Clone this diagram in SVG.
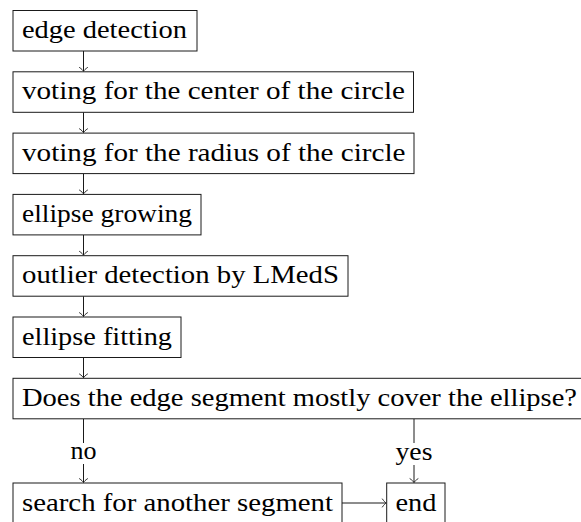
<svg xmlns="http://www.w3.org/2000/svg" width="581" height="522" viewBox="0 0 581 522">
  <defs>
    <style>
      .box { fill: #ffffff; stroke: #1a1a1a; stroke-width: 1; }
      text { font-family: "Liberation Serif", "Times New Roman", serif; font-size: 26px; fill: #000000; }
      .edge { fill: none; stroke: #1a1a1a; stroke-width: 1; }
    </style>
    <marker id="to" viewBox="-5 -5 6 10" refX="0" refY="0" markerWidth="6" markerHeight="10" markerUnits="userSpaceOnUse" orient="auto" overflow="visible">
      <path d="M-3.8,-4 C-2.3,-1.7 -0.8,-0.5 0,0 C-0.8,0.5 -2.3,1.7 -3.8,4" fill="none" stroke="#1a1a1a" stroke-width="0.9" stroke-linecap="round"/>
    </marker>
  </defs>

  <rect width="581" height="522" fill="#ffffff"/>

  <!-- connectors -->
  <g id="connectors">
    <line class="edge" x1="83.5" y1="51" x2="83.5" y2="71.3" marker-end="url(#to)"/>
    <line class="edge" x1="83.5" y1="112.3" x2="83.5" y2="132.6" marker-end="url(#to)"/>
    <line class="edge" x1="83.5" y1="173.6" x2="83.5" y2="193.9" marker-end="url(#to)"/>
    <line class="edge" x1="83.5" y1="234.9" x2="83.5" y2="255.2" marker-end="url(#to)"/>
    <line class="edge" x1="83.5" y1="296.2" x2="83.5" y2="316.5" marker-end="url(#to)"/>
    <line class="edge" x1="83.5" y1="357.5" x2="83.5" y2="377.8" marker-end="url(#to)"/>
    <!-- no branch -->
    <line class="edge" x1="83.5" y1="418.8" x2="83.5" y2="443"/>
    <line class="edge" x1="83.5" y1="464" x2="83.5" y2="482.5" marker-end="url(#to)"/>
    <text x="83.5" y="459" text-anchor="middle" textLength="26" lengthAdjust="spacingAndGlyphs">no</text>
    <!-- yes branch -->
    <line class="edge" x1="414" y1="418.8" x2="414" y2="443"/>
    <line class="edge" x1="414" y1="465" x2="414" y2="482.5" marker-end="url(#to)"/>
    <text x="414" y="459.5" text-anchor="middle" textLength="37" lengthAdjust="spacingAndGlyphs">yes</text>
    <!-- search to end -->
    <line class="edge" x1="342" y1="503" x2="386.2" y2="503" marker-end="url(#to)"/>
  </g>

  <g id="edge-detection">
    <rect class="box" x="13" y="10.5" width="184" height="40.5"/>
    <text x="22" y="38" textLength="165" lengthAdjust="spacingAndGlyphs">edge detection</text>
  </g>

  <g id="vote-center">
    <rect class="box" x="13" y="71.8" width="400.5" height="40.5"/>
    <text x="22" y="99.3" textLength="383" lengthAdjust="spacingAndGlyphs">voting for the center of the circle</text>
  </g>

  <g id="vote-radius">
    <rect class="box" x="13" y="133.1" width="401" height="40.5"/>
    <text x="22" y="160.6" textLength="383.5" lengthAdjust="spacingAndGlyphs">voting for the radius of the circle</text>
  </g>

  <g id="ellipse-growing">
    <rect class="box" x="13" y="194.4" width="188" height="40.5"/>
    <text x="22" y="221.9" textLength="170" lengthAdjust="spacingAndGlyphs">ellipse growing</text>
  </g>

  <g id="outlier-detection">
    <rect class="box" x="13" y="255.7" width="335" height="40.5"/>
    <text x="22" y="283.2" textLength="317" lengthAdjust="spacingAndGlyphs">outlier detection by LMedS</text>
  </g>

  <g id="ellipse-fitting">
    <rect class="box" x="13" y="317" width="168" height="40.5"/>
    <text x="22" y="344.5" textLength="150" lengthAdjust="spacingAndGlyphs">ellipse fitting</text>
  </g>

  <g id="coverage-test">
    <rect class="box" x="13" y="378.3" width="580" height="40.5"/>
    <text x="22" y="405.8" textLength="555" lengthAdjust="spacingAndGlyphs">Does the edge segment mostly cover the ellipse?</text>
  </g>

  <g id="search-segment">
    <rect class="box" x="13" y="483" width="329" height="40.5"/>
    <text x="22" y="510.5" textLength="311" lengthAdjust="spacingAndGlyphs">search for another segment</text>
  </g>

  <g id="end">
    <rect class="box" x="386.7" y="483" width="58.3" height="40.5"/>
    <text x="395.4" y="510.5" textLength="41" lengthAdjust="spacingAndGlyphs">end</text>
  </g>
</svg>
